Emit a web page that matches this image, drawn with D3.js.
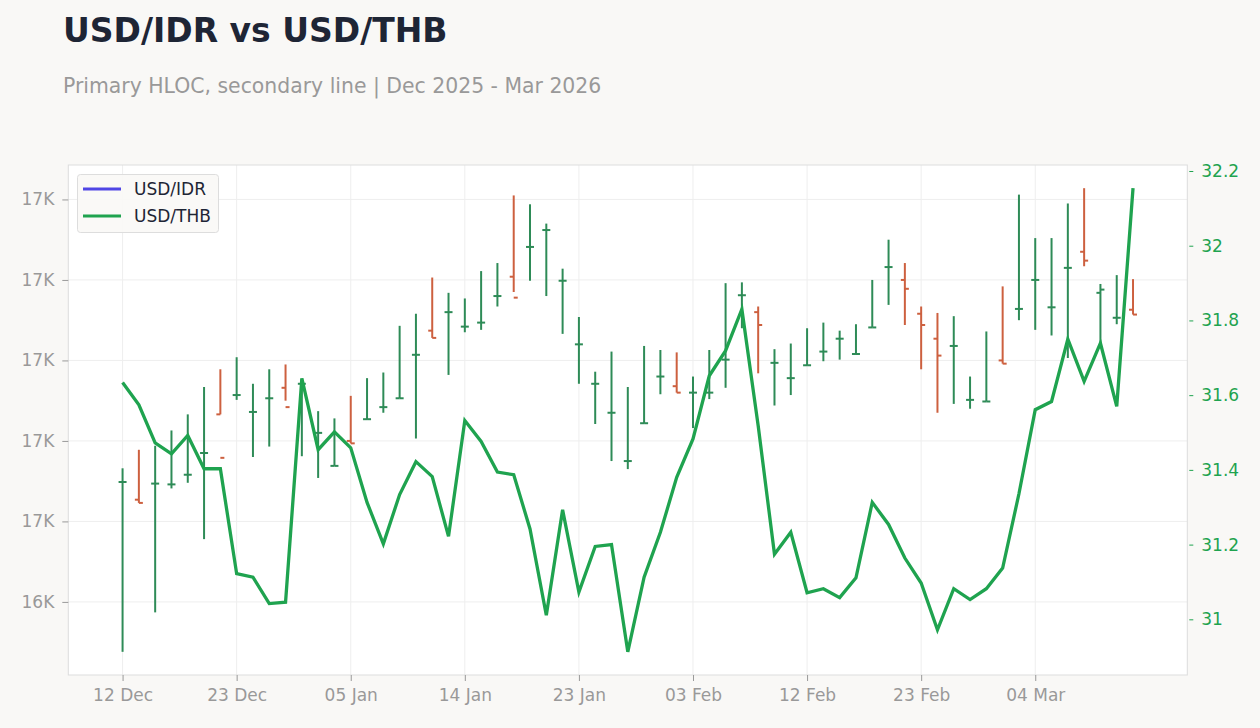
<!DOCTYPE html>
<html><head><meta charset="utf-8">
<script src="https://cdn.jsdelivr.net/npm/d3@7"></script>
<style>
body{margin:0;background:#f9f8f6;font-family:"DejaVu Sans",sans-serif;}
svg{display:block;}
</style></head><body><svg id="c" width="1260" height="728"></svg>
<script>
const dates = [
 "2025-12-12","2025-12-15","2025-12-16","2025-12-17","2025-12-18","2025-12-19","2025-12-22","2025-12-23","2025-12-24","2025-12-26","2025-12-29","2025-12-30","2025-12-31",
 "2026-01-02","2026-01-05","2026-01-06","2026-01-07","2026-01-08","2026-01-09","2026-01-12","2026-01-13","2026-01-14","2026-01-15","2026-01-16","2026-01-19","2026-01-20","2026-01-21","2026-01-22","2026-01-23","2026-01-26","2026-01-27","2026-01-28","2026-01-29","2026-01-30",
 "2026-02-02","2026-02-03","2026-02-04","2026-02-05","2026-02-06","2026-02-09","2026-02-10","2026-02-11","2026-02-12","2026-02-13","2026-02-16","2026-02-17","2026-02-18","2026-02-19","2026-02-20","2026-02-23","2026-02-24","2026-02-25","2026-02-26","2026-02-27",
 "2026-03-02","2026-03-03","2026-03-04","2026-03-05","2026-03-06","2026-03-09","2026-03-10","2026-03-11","2026-03-12"];

const idrOpen  = [16549,16527,16547,16546,16558,16585,16633,16657,16636,16653,16666,16671,16610,16569,16600,16627,16642,16653,16707,16737,16760,16742,16747,16780,16804,16841,16862,16799,16720,16671,16635,16575,16622,16680,16668,16660,16660,16701,16781,16760,16697,16678,16694,16711,16727,16708,16741,16816,16800,16758,16727,16718,16651,16649,16700,16764,16800,16766,16815,16835,16784,16753,16763];
const idrHigh  = [16566,16589,16594,16613,16633,16667,16689,16704,16671,16689,16695,16677,16637,16628,16656,16678,16685,16743,16758,16803,16784,16777,16811,16821,16905,16894,16870,16814,16754,16686,16711,16667,16718,16713,16710,16680,16713,16796,16797,16767,16714,16721,16740,16747,16737,16745,16800,16850,16821,16767,16759,16755,16680,16736,16792,16906,16852,16852,16895,16914,16795,16806,16801];
const idrLow   = [16338,16523,16387,16541,16548,16478,16633,16651,16580,16593,16650,16581,16554,16569,16597,16627,16635,16653,16603,16728,16682,16735,16738,16767,16785,16799,16780,16733,16671,16621,16575,16565,16622,16658,16660,16616,16652,16666,16740,16684,16644,16657,16694,16699,16701,16708,16741,16769,16744,16689,16635,16646,16640,16649,16696,16750,16738,16731,16703,16817,16721,16745,16757];
const idrClose = [16549,16523,16547,16546,16558,16585,16579,16657,16636,16653,16642,16671,16610,16569,16597,16627,16642,16653,16707,16728,16760,16742,16747,16780,16778,16841,16862,16799,16720,16671,16635,16575,16622,16680,16660,16660,16660,16701,16781,16744,16697,16678,16694,16711,16727,16708,16741,16816,16789,16744,16706,16718,16651,16649,16696,16764,16800,16766,16815,16824,16788,16753,16757];
const thb = [31.634,31.574,31.472,31.443,31.492,31.403,31.403,31.122,31.113,31.042,31.046,31.645,31.454,31.502,31.459,31.313,31.202,31.334,31.422,31.382,31.222,31.532,31.476,31.394,31.387,31.242,31.011,31.293,31.073,31.195,31.200,30.913,31.113,31.233,31.380,31.483,31.652,31.719,31.830,31.518,31.174,31.233,31.071,31.082,31.058,31.111,31.313,31.254,31.164,31.097,30.972,31.082,31.053,31.082,31.137,31.336,31.561,31.583,31.750,31.637,31.739,31.570,32.154];

const xTickDates = ["2025-12-12","2025-12-23","2026-01-05","2026-01-14","2026-01-23","2026-02-03","2026-02-12","2026-02-23","2026-03-04"];
const seriesNames = ["USD/IDR","USD/THB"];

const W=1260,H=728;
const m={l:68.3,r:1187.3,t:165,b:675};
const svg=d3.select("#c");
svg.append("rect").attr("width",W).attr("height",H).attr("fill","#f9f8f6");

const upColor="#2e8b57", downColor="#cd603f", thbColor="#1fa34f", idrLegend="#5046e5";
const gray="#999999";

const x=d3.scalePoint().domain(dates).range([m.l,m.r]).padding(3.33);

function padExt(arr){const e=d3.extent(arr);const p=(e[1]-e[0])*0.05;return [e[0]-p,e[1]+p];}
const yL=d3.scaleLinear().domain(padExt(idrLow.concat(idrHigh))).range([m.b,m.t]);
const yR=d3.scaleLinear().domain(padExt(thb)).range([m.b,m.t]);

// plot bg
svg.append("rect").attr("x",m.l).attr("y",m.t).attr("width",m.r-m.l).attr("height",m.b-m.t).attr("fill","#ffffff");

// grid
const g=svg.append("g");
const lt=yL.ticks(6);
g.selectAll("line.h").data(lt).join("line").attr("x1",m.l).attr("x2",m.r).attr("y1",d=>yL(d)).attr("y2",d=>yL(d)).attr("stroke","#eeeeee").attr("stroke-width",1);
g.selectAll("line.v").data(xTickDates).join("line").attr("y1",m.t).attr("y2",m.b).attr("x1",d=>x(d)).attr("x2",d=>x(d)).attr("stroke","#eeeeee").attr("stroke-width",1);

// frame
svg.append("rect").attr("x",m.l).attr("y",m.t).attr("width",m.r-m.l).attr("height",m.b-m.t).attr("fill","none").attr("stroke","#dddddd").attr("stroke-width",1);

// axes
const fs="17px";
const axL=svg.append("g").attr("transform",`translate(${m.l},0)`).call(d3.axisLeft(yL).tickValues(lt).tickSize(6).tickPadding(8).tickFormat(d=>Math.round(d/1000)+"K"));
axL.select(".domain").remove();
axL.selectAll("line").attr("stroke",gray);
axL.selectAll("text").attr("fill",gray).style("font-size",fs).style("font-family","DejaVu Sans");

const rt=yR.ticks(6);
const axR=svg.append("g").attr("transform",`translate(${m.r},0)`).call(d3.axisRight(yR).tickValues(rt).tickSize(6).tickPadding(8).tickFormat(d=>String(+d.toFixed(1))));
axR.select(".domain").remove();
axR.selectAll("line").attr("stroke",thbColor).attr("x1",2).attr("x2",6);
axR.selectAll("text").attr("fill",thbColor).style("font-size",fs).style("font-family","DejaVu Sans");

const fmt=d3.timeFormat("%d %b"), parse=d3.timeParse("%Y-%m-%d");
const axB=svg.append("g").attr("transform",`translate(0,${m.b})`).call(d3.axisBottom(x).tickValues(xTickDates).tickSize(6).tickPadding(8).tickFormat(d=>fmt(parse(d))));
axB.select(".domain").remove();
axB.selectAll("line").attr("stroke",gray);
axB.selectAll("text").attr("fill",gray).style("font-size",fs).style("font-family","DejaVu Sans");

// OHLC bars
const bars=dates.map((d,i)=>({d,o:idrOpen[i],h:idrHigh[i],l:idrLow[i],c:idrClose[i]}));
const bg=svg.append("g");
const col=b=>b.c>=b.o?upColor:downColor;
bg.selectAll("line.hl").data(bars).join("line").attr("x1",b=>x(b.d)).attr("x2",b=>x(b.d)).attr("y1",b=>yL(b.h)).attr("y2",b=>yL(b.l)).attr("stroke",col).attr("stroke-width",2);
bg.selectAll("line.o").data(bars).join("line").attr("x1",b=>x(b.d)-4).attr("x2",b=>x(b.d)).attr("y1",b=>yL(b.o)).attr("y2",b=>yL(b.o)).attr("stroke",col).attr("stroke-width",2);
bg.selectAll("line.c").data(bars).join("line").attr("x1",b=>x(b.d)).attr("x2",b=>x(b.d)+4).attr("y1",b=>yL(b.c)).attr("y2",b=>yL(b.c)).attr("stroke",col).attr("stroke-width",2);

// THB line
svg.append("path").datum(thb).attr("fill","none").attr("stroke",thbColor).attr("stroke-width",3.3).attr("stroke-linejoin","miter")
 .attr("d",d3.line().x((v,i)=>x(dates[i])).y(v=>yR(v)));

// legend
const lg=svg.append("g");
lg.append("rect").attr("x",77.5).attr("y",174.5).attr("width",141).attr("height",58).attr("rx",3).attr("fill","#f9f8f6").attr("fill-opacity",0.9).attr("stroke","#dddddd");
const lcol=[idrLegend,thbColor];
seriesNames.forEach((n,i)=>{
  const yy=189+i*27;
  lg.append("line").attr("x1",83).attr("x2",121).attr("y1",yy).attr("y2",yy).attr("stroke",lcol[i]).attr("stroke-width",3);
  lg.append("text").attr("x",134).attr("y",yy).attr("dy","0.35em").text(n).attr("fill","#1e2535").style("font-size","17px").style("font-family","DejaVu Sans");
});

// titles
svg.append("text").attr("x",63).attr("y",42).text("USD/IDR vs USD/THB").attr("fill","#1e2535").style("font-size","33px").style("font-weight","bold").style("font-family","DejaVu Sans");
svg.append("text").attr("x",63).attr("y",93).text("Primary HLOC, secondary line | Dec 2025 - Mar 2026").attr("fill","#999999").style("font-size","20.4px").style("font-family","DejaVu Sans");
</script></body></html>
